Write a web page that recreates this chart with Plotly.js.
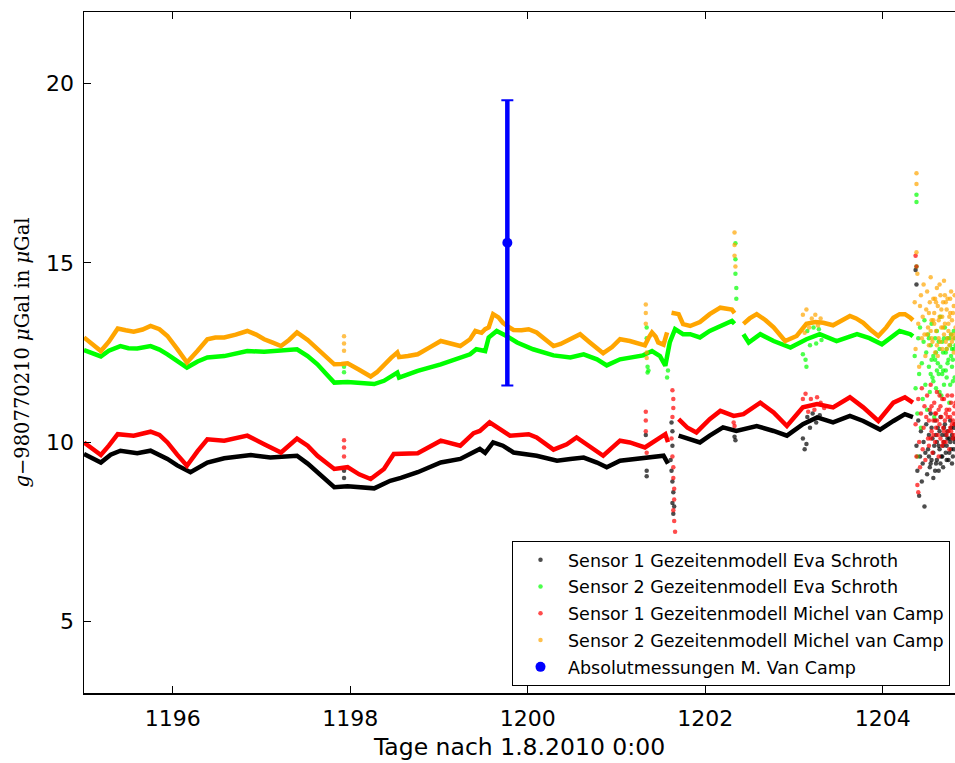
<!DOCTYPE html>
<html>
<head>
<meta charset="utf-8">
<script src="https://cdn.plot.ly/plotly-3.0.1.min.js"></script>
<style>html,body{margin:0;padding:0;background:#fff;}#chart{width:955px;height:763px;}</style>
</head>
<body>
<div id="chart"></div>
<script>
// ---------- Data ----------
const seriesNames = [
  "Sensor 1 Gezeitenmodell Eva Schroth",
  "Sensor 2 Gezeitenmodell Eva Schroth",
  "Sensor 1 Gezeitenmodell Michel van Camp",
  "Sensor 2 Gezeitenmodell Michel van Camp",
  "Absolutmessungen M. Van Camp"
];

// Sensor 1, Eva Schroth (black) – continuous record
const s1EvaX = [1195.00,1195.19,1195.30,1195.41,1195.60,1195.75,1195.94,1196.05,1196.20,1196.39,1196.58,1196.88,1197.10,1197.40,1197.52,1197.63,1197.82,1197.97,1198.27,1198.45,1198.57,1198.76,1199.02,1199.24,1199.35,1199.46,1199.52,1199.61,1199.72,1199.84,1200.10,1200.33,1200.48,1200.63,1200.78,1200.89,1201.04,1201.30,1201.53,1201.58,null,1201.70,1201.82,1201.94,1202.05,1202.20,1202.35,1202.58,1202.77,1202.92,1203.10,1203.26,1203.44,1203.63,1203.78,1203.97,1204.12,1204.25,1204.34];
const s1EvaY = [9.67,9.43,9.65,9.76,9.69,9.76,9.53,9.35,9.16,9.43,9.55,9.64,9.57,9.62,9.40,9.16,8.74,8.77,8.71,8.92,9.00,9.16,9.43,9.53,9.67,9.81,9.70,9.99,9.90,9.71,9.62,9.48,9.53,9.57,9.43,9.30,9.48,9.57,9.62,9.40,null,10.18,10.08,9.99,10.18,10.41,10.31,10.45,10.31,10.18,10.50,10.69,10.55,10.73,10.59,10.35,10.59,10.78,10.70];
// Sensor 1, Eva Schroth – scattered samples
const s1EvaScX = [1197.93,1197.93,1201.33,1201.34,1201.34,1201.62,1201.63,1201.63,1201.61,1201.62,1201.63,1201.64,1201.63,1201.64,1201.65,1202.33,1202.34,1203.10,1203.12,1203.15,1203.18,1203.21,1203.25,1203.29,1203.14,
  1204.37,1204.38,1204.38,1204.39,1204.40,1204.41,1204.42,1204.43,1204.44,1204.45,1204.46,1204.47,1204.48,1204.49,1204.50,1204.51,1204.52,1204.53,1204.54,1204.55,1204.56,1204.57,1204.58,1204.59,1204.60,1204.61,1204.62,1204.63,1204.64,1204.65,1204.66,1204.67,1204.68,1204.69,1204.70,1204.71,1204.72,1204.73,1204.74,1204.75,1204.76,1204.77,1204.78,1204.79,1204.80,1204.81,
  1204.52,1204.55,1204.57,1204.60,1204.63,1204.65,1204.67,1204.69,1204.71,1204.72,1204.75,1204.76,1204.78,1204.79,1204.80,1204.81,1204.82,1204.61,1204.64,1204.68,1204.73,1204.77,1204.54,1204.59];
const s1EvaScY = [9.20,9.00,10.20,9.20,9.05,10.55,10.30,9.90,9.50,9.20,8.90,8.60,8.30,8.00,8.20,10.15,10.05,10.10,9.80,10.70,10.40,10.80,10.55,10.75,9.95,
  14.8,14.4,9.9,9.2,10.6,8.5,9.6,10.3,8.9,9.4,10.0,8.2,9.7,10.5,9.1,9.8,10.2,9.3,10.8,9.5,10.1,9.0,9.9,10.6,9.4,10.0,10.4,9.2,9.8,10.7,9.6,10.2,9.3,10.0,10.5,9.7,9.9,10.3,9.5,10.1,10.6,9.8,10.2,9.6,10.4,10.0,
  9.6,10.4,9.7,10.2,9.9,9.4,9.6,10.4,10.2,9.5,9.7,10.0,9.4,10.1,9.8,10.5,10.1,9.5,10.3,9.9,10.1,10.4,9.4,9.2];

// Sensor 2, Eva Schroth (green)
const s2EvaX = [1195.00,1195.10,1195.19,1195.28,1195.41,1195.50,1195.60,1195.75,1195.85,1195.94,1196.05,1196.16,1196.28,1196.39,1196.58,1196.84,1197.03,1197.22,1197.40,1197.52,1197.63,1197.73,1197.82,1197.97,1198.10,1198.27,1198.38,1198.53,1198.55,1198.76,1199.02,1199.24,1199.35,1199.42,1199.52,1199.56,1199.65,1199.76,1199.88,1200.06,1200.29,1200.48,1200.63,1200.78,1200.89,1201.04,1201.30,1201.40,1201.49,1201.55,1201.60,1201.66,1201.75,1201.83,1201.94,1202.05,1202.17,1202.30,1202.33,null,1202.43,1202.49,1202.62,1202.77,1202.96,1203.14,1203.29,1203.48,1203.71,1203.85,1203.99,1204.12,1204.19,1204.31,1204.34];
const s2EvaY = [12.57,12.48,12.39,12.55,12.68,12.62,12.61,12.68,12.58,12.45,12.25,12.08,12.25,12.36,12.40,12.54,12.52,12.55,12.59,12.40,12.17,11.90,11.66,11.68,11.65,11.62,11.71,11.94,11.80,11.99,12.17,12.36,12.45,12.59,12.54,12.92,13.10,12.96,12.78,12.59,12.42,12.36,12.45,12.31,12.14,12.31,12.42,12.54,12.40,12.13,12.78,13.15,13.01,13.01,12.92,13.10,13.24,13.38,13.30,null,13.01,12.78,13.01,12.82,12.64,12.87,13.01,12.82,13.01,12.90,12.73,12.95,13.10,13.01,12.95];
const s2EvaScX = [1197.93,1197.93,1201.34,1201.34,1201.35,1201.35,1201.36,1201.57,1201.58,1202.34,1202.34,1202.34,1202.35,1202.35,1203.10,1203.13,1203.15,1203.18,1203.22,1203.25,1203.28,1203.31,1203.14,
  1204.36,1204.37,1204.38,1204.38,1204.38,1204.39,1204.39,1204.40,1204.41,1204.42,1204.43,1204.44,1204.45,1204.46,1204.47,1204.48,1204.49,1204.50,1204.51,1204.52,1204.53,1204.54,1204.55,1204.56,1204.57,1204.58,1204.59,1204.60,1204.61,1204.62,1204.63,1204.64,1204.65,1204.66,1204.67,1204.68,1204.69,1204.70,1204.71,1204.72,1204.73,1204.74,1204.75,1204.76,1204.77,1204.78,1204.79,1204.80,1204.81,
  1204.52,1204.55,1204.57,1204.60,1204.63,1204.65,1204.67,1204.69,1204.71,1204.72,1204.75,1204.76,1204.78,1204.79,1204.80,1204.81,1204.82,1204.61,1204.64,1204.68,1204.73,1204.77,1204.54,1204.59];
const s2EvaScY = [12.10,11.95,13.20,12.90,12.10,11.94,12.00,11.80,12.00,15.55,15.10,14.70,14.30,14.00,12.45,12.30,13.10,12.70,13.20,12.75,13.15,12.85,12.10,
  12.4,11.5,16.9,16.7,14.9,10.8,9.6,12.9,11.9,13.2,10.4,12.2,11.2,12.8,13.4,11.6,12.5,10.9,13.0,12.1,11.4,12.7,13.3,11.8,12.4,10.7,12.9,11.5,13.1,12.2,11.9,12.6,13.5,11.3,12.8,12.0,11.6,13.2,12.5,11.8,12.9,12.3,11.1,12.7,13.0,12.1,11.7,12.6,12.9,
  12.9,12.3,11.7,12.5,12.8,12.1,11.9,12.9,12.0,12.6,12.9,11.6,12.6,12.3,13.1,11.8,12.7,12.0,11.4,12.5,12.2,12.4,11.9,12.3];

// Sensor 1, Michel van Camp (red)
const s1MvcX = [1195.00,1195.19,1195.28,1195.38,1195.56,1195.75,1195.85,1195.94,1196.05,1196.16,1196.28,1196.39,1196.58,1196.84,1197.03,1197.22,1197.40,1197.52,1197.63,1197.82,1197.97,1198.10,1198.23,1198.38,1198.49,1198.76,1199.02,1199.24,1199.39,1199.46,1199.57,1199.69,1199.80,1200.01,1200.10,1200.29,1200.44,1200.55,1200.66,1200.85,1201.04,1201.15,1201.32,1201.45,1201.55,1201.58,null,1201.70,1201.80,1201.90,1202.05,1202.17,1202.32,1202.43,1202.62,1202.77,1202.92,1203.10,1203.26,1203.44,1203.63,1203.78,1203.95,1204.12,1204.25,1204.34];
const s1MvcY = [9.99,9.64,9.90,10.22,10.18,10.29,10.20,9.99,9.65,9.34,9.75,10.08,10.04,10.18,9.94,9.71,10.10,9.90,9.62,9.25,9.30,9.10,8.97,9.25,9.67,9.69,10.04,9.90,10.25,10.31,10.55,10.36,10.18,10.22,10.13,9.79,9.94,10.13,9.94,9.62,10.04,9.99,9.85,10.04,10.22,10.00,null,10.64,10.40,10.27,10.64,10.87,10.73,10.78,11.10,10.83,10.45,10.97,11.06,10.97,11.25,10.97,10.59,11.10,11.25,11.10];
const s1MvcScX = [1197.93,1197.93,1197.93,1201.33,1201.33,1201.33,1201.34,1201.63,1201.64,1201.64,1201.63,1201.62,1201.63,1201.64,1201.64,1201.65,1201.65,1201.64,1201.65,1201.66,1202.32,1202.33,1203.10,1203.13,1203.16,1203.19,1203.23,1203.26,1203.30,1203.34,
  1204.37,1204.38,1204.37,1204.38,1204.39,1204.40,1204.40,1204.41,1204.42,1204.43,1204.44,1204.45,1204.46,1204.47,1204.48,1204.49,1204.50,1204.51,1204.52,1204.53,1204.54,1204.55,1204.56,1204.57,1204.58,1204.59,1204.60,1204.61,1204.62,1204.63,1204.64,1204.65,1204.66,1204.67,1204.68,1204.69,1204.70,1204.71,1204.72,1204.73,1204.74,1204.75,1204.76,1204.77,1204.78,1204.79,1204.80,1204.81,
  1204.52,1204.55,1204.57,1204.60,1204.63,1204.65,1204.67,1204.69,1204.71,1204.72,1204.75,1204.76,1204.78,1204.79,1204.80,1204.81,1204.82,1204.61,1204.64,1204.68,1204.73,1204.77,1204.54,1204.59];
const s1MvcScY = [10.05,9.85,9.60,10.85,10.60,10.30,9.70,11.45,11.20,10.95,10.70,10.10,9.60,9.30,9.00,8.70,8.40,8.10,7.80,7.50,10.55,10.45,11.20,11.35,10.85,11.20,10.90,11.25,11.10,10.95,
  15.2,14.9,10.5,9.6,8.8,8.6,11.2,10.0,9.3,10.8,11.5,9.8,10.4,11.0,9.5,10.7,11.3,10.1,9.9,10.9,11.6,10.3,9.7,10.6,11.1,10.0,10.8,11.4,10.2,9.6,10.5,11.0,10.7,9.9,10.4,11.2,10.6,10.0,10.9,11.3,10.3,9.8,10.7,11.1,10.5,10.1,10.8,11.0,
  10.6,11.0,10.2,10.4,10.9,10.1,11.2,10.3,10.8,10.2,10.9,10.4,11.3,10.6,10.2,10.5,11.1,10.6,11.3,10.0,10.7,10.3,10.1,10.8];

// Sensor 2, Michel van Camp (orange)
const s2MvcX = [1195.00,1195.10,1195.19,1195.28,1195.38,1195.47,1195.56,1195.66,1195.75,1195.85,1195.94,1196.05,1196.16,1196.28,1196.39,1196.48,1196.58,1196.71,1196.84,1196.94,1197.03,1197.12,1197.22,1197.31,1197.40,1197.52,1197.63,1197.73,1197.82,1197.90,1197.97,1198.10,1198.23,1198.30,1198.38,1198.46,1198.53,1198.55,1198.65,1198.76,1198.90,1199.02,1199.13,1199.24,1199.35,1199.41,1199.48,1199.52,1199.56,1199.61,1199.67,1199.72,1199.78,1199.84,1199.93,1200.01,1200.10,1200.20,1200.29,1200.37,1200.44,1200.52,1200.59,1200.70,1200.78,1200.85,1200.95,1201.04,1201.15,1201.25,1201.32,1201.36,1201.40,1201.44,1201.47,1201.53,1201.57,null,1201.62,1201.70,1201.75,1201.83,1201.94,1202.05,1202.17,1202.30,1202.33,null,1202.43,1202.50,1202.58,1202.68,1202.77,1202.90,1203.03,1203.14,1203.24,1203.33,1203.44,1203.53,1203.63,1203.70,1203.78,1203.87,1203.95,1204.04,1204.12,1204.19,1204.25,1204.31,1204.34];
const s2MvcY = [12.92,12.70,12.54,12.80,13.17,13.12,13.08,13.14,13.24,13.15,12.96,12.60,12.22,12.55,12.87,12.92,12.92,13.00,13.10,13.00,12.87,12.78,12.68,12.85,13.06,12.85,12.59,12.35,12.17,12.18,12.20,12.02,11.83,11.95,12.17,12.35,12.50,12.37,12.40,12.45,12.65,12.82,12.75,12.68,12.87,13.10,13.05,13.15,13.20,13.57,13.48,13.33,13.22,13.13,13.12,13.15,13.06,12.85,12.68,12.74,12.82,12.92,13.01,12.78,12.60,12.48,12.65,12.87,12.82,12.76,12.70,12.90,13.06,12.95,12.78,12.72,13.06,null,13.61,13.57,13.29,13.24,13.35,13.57,13.75,13.70,13.60,null,13.30,13.45,13.57,13.40,13.20,12.82,12.96,13.30,13.35,13.33,13.26,13.40,13.52,13.45,13.33,13.12,12.96,13.20,13.47,13.57,13.57,13.47,13.40];
const s2MvcScX = [1197.93,1197.93,1197.93,1201.33,1201.33,1201.33,1201.34,1201.34,1202.33,1202.33,1202.33,1202.34,1203.10,1203.14,1203.17,1203.20,1203.24,1203.27,1203.30,1203.12,
  1204.36,1204.37,1204.38,1204.38,1204.38,1204.39,1204.40,1204.41,1204.42,1204.43,1204.44,1204.45,1204.46,1204.47,1204.48,1204.49,1204.50,1204.50,1204.51,1204.52,1204.53,1204.54,1204.55,1204.56,1204.57,1204.58,1204.58,1204.59,1204.60,1204.61,1204.62,1204.62,1204.63,1204.64,1204.65,1204.66,1204.66,1204.67,1204.68,1204.69,1204.70,1204.70,1204.71,1204.72,1204.73,1204.74,1204.74,1204.75,1204.76,1204.77,1204.78,1204.79,1204.80,1204.81,
  1204.52,1204.55,1204.57,1204.60,1204.63,1204.65,1204.67,1204.69,1204.71,1204.72,1204.75,1204.76,1204.78,1204.79,1204.80,1204.81,1204.82,1204.61,1204.64,1204.68,1204.73,1204.77,1204.54,1204.59];
const s2MvcScY = [12.95,12.75,12.55,13.84,13.60,13.30,12.50,12.35,15.85,15.50,15.20,14.90,13.55,13.70,13.20,13.45,13.55,13.25,13.45,13.05,
  13.9,12.6,17.5,17.2,15.3,14.7,13.3,12.1,13.8,14.1,12.9,13.5,14.4,13.0,12.4,13.7,14.2,13.0,13.2,12.7,13.9,14.6,13.4,12.8,14.0,13.6,13.3,12.5,13.1,14.3,13.8,12.4,12.9,13.5,14.1,13.2,13.7,12.6,13.9,14.5,13.3,14.1,12.8,13.7,14.0,13.1,13.3,12.7,13.6,14.2,13.4,12.9,13.8,13.0,
  13.6,12.9,13.4,13.9,13.4,12.8,13.5,13.0,13.9,12.6,13.5,14.0,12.8,13.6,12.5,14.1,13.2,12.7,14.4,13.2,12.9,13.0,13.1,14.0];

// Absolute measurement (blue) with error bar
const absX = [1199.77];
const absY = [15.56];
const absErr = [3.98];

// Axis ticks
const xTicks = [1196, 1198, 1200, 1202, 1204];
const yTicks = [5, 10, 15, 20];

// ---------- Build traces ----------
const colors = ["#000000", "#00ff00", "#ff0000", "#ffa500", "#0000ff"];
const mains = [[s1EvaX, s1EvaY], [s2EvaX, s2EvaY], [s1MvcX, s1MvcY], [s2MvcX, s2MvcY]];
const scats = [[s1EvaScX, s1EvaScY], [s2EvaScX, s2EvaScY], [s1MvcScX, s1MvcScY], [s2MvcScX, s2MvcScY]];
const traces = [];
for (let i = 0; i < 4; i++) {
  traces.push({
    x: mains[i][0], y: mains[i][1], type: "scatter", mode: "lines",
    line: {color: colors[i], width: 4.5}, connectgaps: false,
    legendgroup: "g" + i, showlegend: false, hoverinfo: "skip"
  });
  traces.push({
    x: scats[i][0], y: scats[i][1], type: "scatter", mode: "markers",
    marker: {color: colors[i], size: 4.5, symbol: "circle", opacity: 0.7, line: {width: 0}},
    name: seriesNames[i], legendgroup: "g" + i, showlegend: true
  });
}
traces.push({
  x: absX, y: absY, type: "scatter", mode: "markers",
  marker: {color: colors[4], size: 1, opacity: 0},
  error_y: {type: "data", array: absErr, visible: true, color: colors[4], thickness: 2, width: 6},
  legendgroup: "g4", showlegend: false, hoverinfo: "skip"
});
traces.push({
  x: absX, y: absY, type: "scatter", mode: "markers",
  marker: {color: colors[4], size: 10},
  error_y: {type: "data", array: absErr, visible: true, color: colors[4], thickness: 4.5, width: 0},
  name: seriesNames[4], legendgroup: "g4", showlegend: true
});

const tickFont = {family: "DejaVu Sans, sans-serif", size: 22, color: "#000"};
const layout = {
  width: 955, height: 763,
  margin: {l: 84, r: 0, t: 12, b: 70, autoexpand: false},
  paper_bgcolor: "#fff", plot_bgcolor: "#fff",
  showlegend: true,
  xaxis: {
    range: [1195, 1204.814], tickvals: xTicks, ticktext: xTicks.map(String),
    ticks: "inside", ticklen: 7, tickwidth: 1, tickcolor: "#000",
    showline: true, linecolor: "#000", linewidth: 1.5, mirror: "ticks",
    showgrid: false, zeroline: false, tickfont: tickFont, ticklabelstandoff: 5,
    title: {text: "Tage nach 1.8.2010 0:00", font: {family: "DejaVu Sans, sans-serif", size: 23.5, color: "#000"}, standoff: 8}
  },
  yaxis: {
    range: [3, 22], tickvals: yTicks, ticktext: yTicks.map(String),
    ticks: "inside", ticklen: 7, tickwidth: 1, tickcolor: "#000",
    showline: true, linecolor: "#000", linewidth: 1.5, mirror: false,
    showgrid: false, zeroline: false, tickfont: tickFont, ticklabelstandoff: 4,
    title: {text: "<i>g</i>−980770210 <i>μ</i>Gal in <i>μ</i>Gal", font: {family: "DejaVu Serif, serif", size: 19.5, color: "#000"}, standoff: 11}
  },
  legend: {
    x: 0.4914, y: 0.0103, xanchor: "left", yanchor: "bottom",
    bgcolor: "#fff", bordercolor: "#000", borderwidth: 1,
    font: {family: "DejaVu Sans, sans-serif", size: 17.5, color: "#000"},
    itemwidth: 45, traceorder: "grouped", tracegroupgap: 1, itemsizing: "trace"
  }
};
Plotly.newPlot("chart", traces, layout, {displayModeBar: false, staticPlot: true});
</script>
</body>
</html>
